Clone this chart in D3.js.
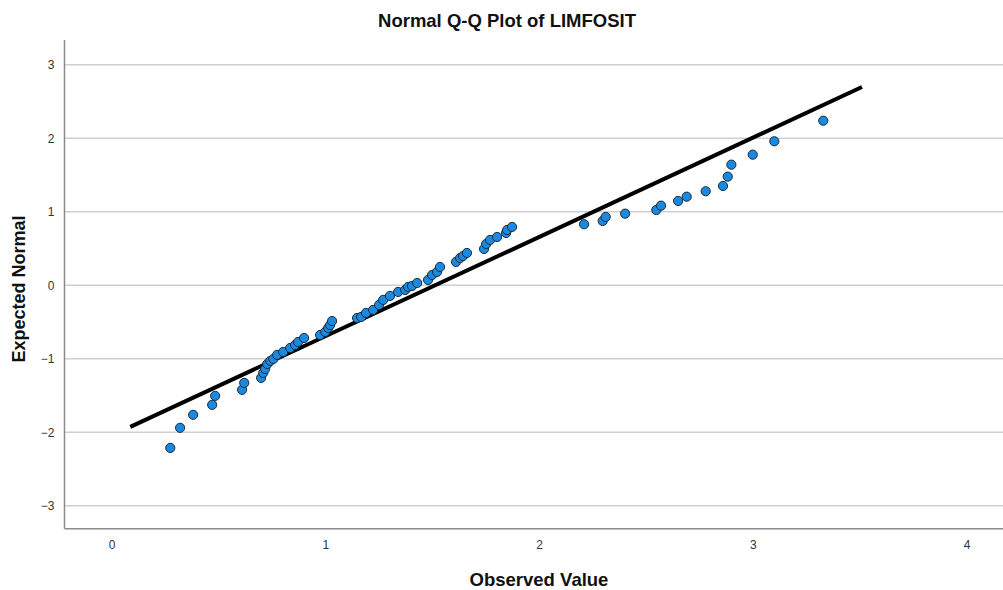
<!DOCTYPE html>
<html>
<head>
<meta charset="utf-8">
<script src="https://cdn.jsdelivr.net/npm/d3@7"></script>
<style>
  html, body { margin: 0; padding: 0; background: #fff; }
  svg { display: block; font-family: "Liberation Sans", Arial, sans-serif; }
</style>
</head>
<body>
<svg id="chart" width="1003" height="590"></svg>
<script>
const observed = [0.274,0.320,0.381,0.470,0.484,0.610,0.620,0.699,0.709,0.718,0.728,0.742,0.756,0.774,0.802,0.835,0.858,0.872,0.900,0.975,0.999,1.013,1.022,1.031,1.148,1.167,1.190,1.223,1.251,1.270,1.302,1.340,1.373,1.387,1.405,1.429,1.480,1.499,1.522,1.536,1.611,1.630,1.644,1.662,1.742,1.752,1.770,1.803,1.845,1.850,1.873,2.210,2.297,2.311,2.402,2.548,2.570,2.650,2.690,2.779,2.860,2.882,2.899,2.999,3.100,3.329];
const expected = [-2.214,-1.941,-1.764,-1.628,-1.506,-1.424,-1.329,-1.261,-1.193,-1.139,-1.071,-1.030,-1.003,-0.948,-0.908,-0.854,-0.813,-0.772,-0.718,-0.677,-0.635,-0.581,-0.541,-0.487,-0.446,-0.432,-0.377,-0.336,-0.268,-0.200,-0.146,-0.091,-0.064,-0.023,-0.010,0.031,0.072,0.140,0.181,0.249,0.317,0.371,0.398,0.439,0.494,0.562,0.616,0.657,0.711,0.752,0.793,0.830,0.875,0.929,0.974,1.024,1.083,1.147,1.205,1.279,1.351,1.478,1.641,1.777,1.959,2.239];
// Reference line end points
const lineX = [0.087, 3.510];
const lineY = [-1.928, 2.698];
const xTicks = [0, 1, 2, 3, 4];
const yTicks = [-3, -2, -1, 0, 1, 2, 3];
const title = "Normal Q-Q Plot of LIMFOSIT";
const xTitle = "Observed Value";
const yTitle = "Expected Normal";

const svg = d3.select("#chart");
const mLeft = 64.5, mRight = 1003, mTop = 40, mBottom = 528.7;
const x = d3.scaleLinear().domain([-0.2208, 4.1698]).range([mLeft, mRight]);
const y = d3.scaleLinear().domain([-3.3136, 3.3374]).range([mBottom, mTop]);

// gridlines
svg.append("g").selectAll("line").data(yTicks).join("line")
  .attr("x1", mLeft).attr("x2", mRight)
  .attr("y1", d => y(d)).attr("y2", d => y(d))
  .attr("stroke", "#cfcfcf").attr("stroke-width", 1.5);

// axes lines
svg.append("line").attr("x1", mLeft).attr("x2", mLeft).attr("y1", mTop).attr("y2", mBottom)
  .attr("stroke", "#8c8c8c").attr("stroke-width", 1.5);
svg.append("line").attr("x1", mLeft).attr("x2", mRight).attr("y1", mBottom).attr("y2", mBottom)
  .attr("stroke", "#8c8c8c").attr("stroke-width", 1.5);

// axis tick labels via d3 axes (no tick lines)
const xAxis = svg.append("g").attr("transform", `translate(0,${mBottom})`)
  .call(d3.axisBottom(x).tickValues(xTicks).tickFormat(d3.format("d")).tickSize(0).tickPadding(12));
const yAxis = svg.append("g").attr("transform", `translate(${mLeft},0)`)
  .call(d3.axisLeft(y).tickValues(yTicks).tickFormat(d3.format("d")).tickSize(0).tickPadding(10));
[xAxis, yAxis].forEach(g => {
  g.select(".domain").remove();
  g.selectAll("text").attr("font-size", 12).attr("fill", "#333")
    .attr("font-family", "'Liberation Sans', Arial, sans-serif");
});

// reference line
svg.append("line")
  .attr("x1", x(lineX[0])).attr("y1", y(lineY[0]))
  .attr("x2", x(lineX[1])).attr("y2", y(lineY[1]))
  .attr("stroke", "#000").attr("stroke-width", 4);

// points
svg.append("g").selectAll("circle").data(observed.map((d, i) => [d, expected[i]])).join("circle")
  .attr("cx", d => x(d[0])).attr("cy", d => y(d[1])).attr("r", 4.6)
  .attr("fill", "#1a8ae0").attr("stroke", "#1b2a38").attr("stroke-width", 1);

// titles
svg.append("text").attr("x", 507).attr("y", 27).attr("text-anchor", "middle")
  .attr("font-size", 18.5).attr("font-weight", "bold").attr("fill", "#111").text(title);
svg.append("text").attr("x", 539).attr("y", 586).attr("text-anchor", "middle")
  .attr("font-size", 18.5).attr("font-weight", "bold").attr("fill", "#111").text(xTitle);
svg.append("text").attr("transform", "translate(25,289) rotate(-90)").attr("text-anchor", "middle")
  .attr("font-size", 18).attr("font-weight", "bold").attr("fill", "#111").text(yTitle);
</script>
</body>
</html>
